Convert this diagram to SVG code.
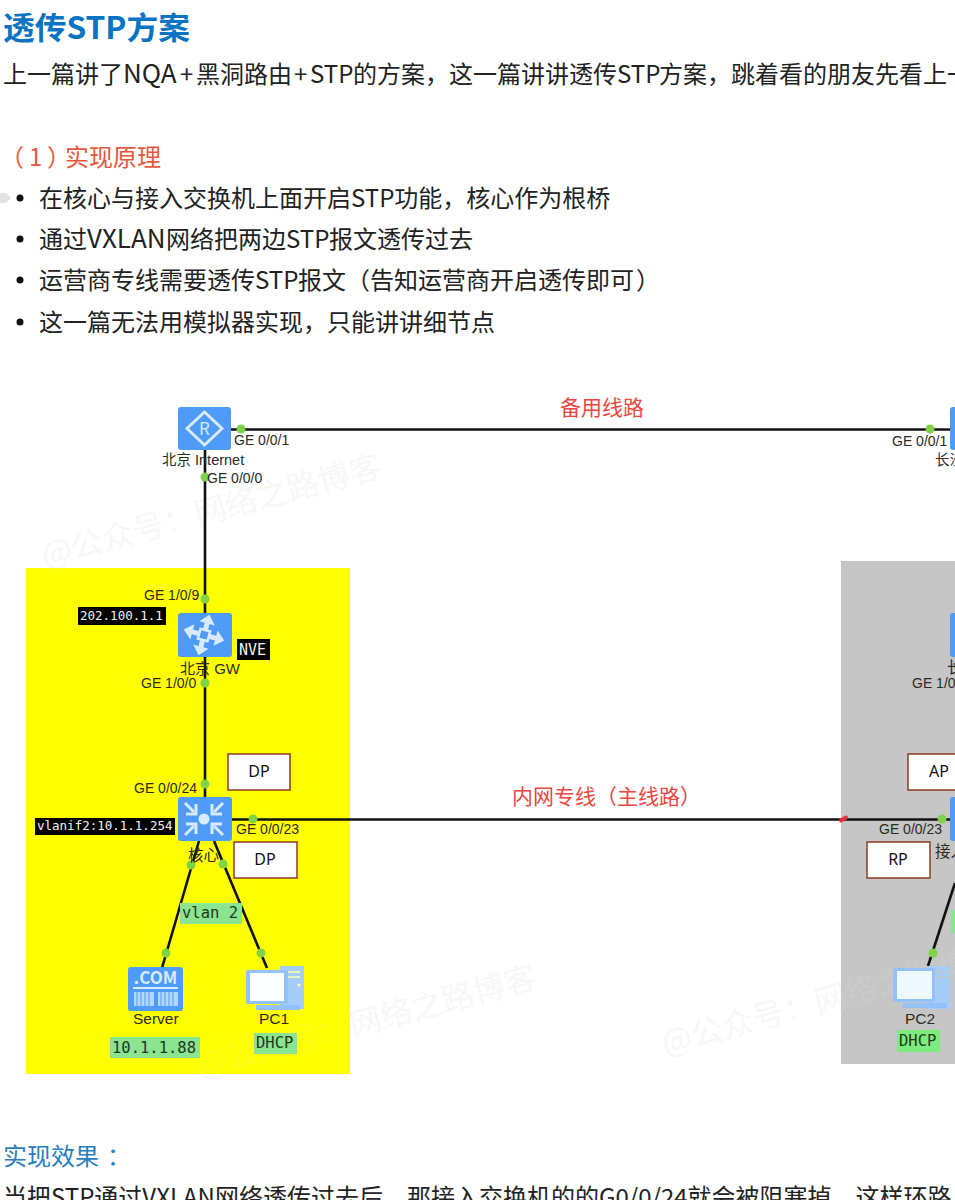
<svg xmlns="http://www.w3.org/2000/svg" width="955" height="1200" viewBox="0 0 955 1200">
<style>
text{font-family:"Noto Sans CJK SC","Liberation Sans",sans-serif}
.body{font-size:24px;fill:#222}
.big{font-size:26px}
.blue{font-size:24px;fill:#2a7ebd}
.zone{stroke:none}
.y{fill:#ffff00}
.g{fill:#c6c6c6}
.veil{opacity:.75}
.wm{font-size:32px;fill:#eeeeee;opacity:.45}
.link{stroke:#111;stroke-width:2.6;fill:none}
.dot{fill:#7ed348}
.port{font-family:"Liberation Sans",Arial,sans-serif;font-size:14px;fill:#2b2b22}
.name{font-family:"Liberation Sans","Noto Sans CJK SC",sans-serif;font-size:15.500px;fill:#2b2b22}
.red{font-size:21px;fill:#e9473f}
.ic{fill:#4e9bf8}
.lt{fill:#d8eaff}
.ls{stroke:#d8eaff;fill:none;stroke-width:3}
.blk{fill:#000}
.mw{font-family:"DejaVu Sans Mono","Liberation Mono",monospace;font-size:12.500px;fill:#f2f2f2}
.grn{fill:#8be48f}
.mg{font-family:"DejaVu Sans Mono","Liberation Mono",monospace;font-size:15.500px;fill:#1f3a20}
.tag{fill:#fff;stroke:#8a3d22;stroke-width:1.500}
.tt{font-family:"Noto Sans","Liberation Sans",sans-serif;font-size:16px;fill:#111;text-anchor:middle}
.tower{fill:#a6cdf8}
.scr{fill:#93c2fb}
</style>
<defs>
<g id="inward"><path d="M-19-16L-10-7" stroke="#d8eaff" stroke-width="3" fill="none"/><path d="M-8-15V-5H-18" stroke="#d8eaff" stroke-width="3" fill="none"/></g>
<path id="arrow" d="M0-21l8 9h-5.500v9h-5v-9h-5.500z" fill="#d8eaff"/>
</defs>
<rect width="955" height="1200" fill="#fff"/>

<g id="article-top">
<text x="3" y="39" font-size="31" font-weight="700" fill="#0b74c2" textLength="187" lengthAdjust="spacingAndGlyphs">透传STP方案</text>
<text class="body" y="83"><tspan x="3">上一篇讲了</tspan><tspan class="big" x="123">NQA</tspan><tspan x="180">+</tspan><tspan x="196">黑洞路由</tspan><tspan x="294">+</tspan><tspan x="310">STP</tspan><tspan x="353">的方案，这一篇讲讲透传</tspan><tspan x="617">STP</tspan><tspan x="659">方案，跳着看的朋友先看上一</tspan></text>
<text x="0 29 47 65 89 113 137" y="166" font-size="24" fill="#e5583e">（1）实现原理</text>
<path d="M0 193h6l5 5-5 5H0z" fill="#e2e2e2"/>
<circle cx="20" cy="198" r="3.500" fill="#111"/><text class="body" x="39" y="207">在核心与接入交换机上面开启STP功能，核心作为根桥</text>
<circle cx="20" cy="239" r="3.500" fill="#111"/><text class="body" y="248"><tspan x="39">通过</tspan><tspan class="big" x="87">VXLAN</tspan><tspan x="166">网络把两边</tspan><tspan x="286">STP</tspan><tspan x="329">报文透传过去</tspan></text>
<circle cx="20" cy="280" r="3.500" fill="#111"/><text class="body" y="289"><tspan x="39">运营商专线需要透传</tspan><tspan x="255">STP</tspan><tspan x="298">报文（告知运营商开启透传即可</tspan><tspan x="636">）</tspan></text>
<circle cx="20" cy="322" r="3.500" fill="#111"/><text class="body" x="39" y="331">这一篇无法用模拟器实现，只能讲讲细节点</text>
</g>

<g id="zones">
<rect class="zone y" x="26" y="568" width="324" height="506"/>
<rect class="zone g" x="841" y="561" width="114" height="503"/>
</g>

<g id="watermarks">
<text class="wm" transform="translate(45 567) rotate(-15)">@公众号：网络之路博客</text>
<text class="wm" transform="translate(200 1078) rotate(-15)">@公众号：网络之路博客</text>
<text class="wm" transform="translate(665 1055) rotate(-15)">@公众号：网络之路博客</text>
<rect class="zone y veil" x="26" y="568" width="324" height="506"/>
<rect class="zone g veil" x="841" y="561" width="114" height="503"/>
</g>

<g id="connectors">
<path class="link" d="M231 429.500H950"/>
<path class="link" d="M205 450V797"/>
<path class="link" d="M232 819.500H950"/>
<path class="link" d="M199 841L162 968"/>
<path class="link" d="M214 841L267 968"/>
<path class="link" d="M928 966L955 883"/>
<circle class="dot" cx="241" cy="429" r="4.500"/>
<circle class="dot" cx="930" cy="429" r="4.500"/>
<circle class="dot" cx="205" cy="477" r="4.500"/>
<circle class="dot" cx="205" cy="599" r="4.500"/>
<circle class="dot" cx="205" cy="683" r="4.500"/>
<circle class="dot" cx="205" cy="784" r="4.500"/>
<circle class="dot" cx="253" cy="819" r="4.500"/>
<circle class="dot" cx="942" cy="819" r="4.500"/>
<circle class="dot" cx="191" cy="865" r="4.500"/>
<circle class="dot" cx="223" cy="864" r="4.500"/>
<circle class="dot" cx="166" cy="953" r="4.500"/>
<circle class="dot" cx="261" cy="953" r="4.500"/>
<circle class="dot" cx="933" cy="953" r="4.500"/>
<path d="M841 820.500l5-3" stroke="#e8303a" stroke-width="4" stroke-linecap="round"/>
<text class="red" x="560" y="415">备用线路</text>
<text class="red" x="512" y="804">内网专线（主线路）</text>
<text class="port" x="234" y="445">GE 0/0/1</text>
<text class="port" x="892" y="446">GE 0/0/1</text>
<text class="port" x="207" y="483">GE 0/0/0</text>
<text class="port" x="144" y="600">GE 1/0/9</text>
<text class="port" x="141" y="688">GE 1/0/0</text>
<text class="port" x="912" y="688">GE 1/0/0</text>
<text class="port" x="134" y="793">GE 0/0/24</text>
<text class="port" x="236" y="834">GE 0/0/23</text>
<text class="port" x="879" y="834">GE 0/0/23</text>
</g>

<g id="bj-internet">
<rect class="ic" x="178" y="407" width="53" height="43" rx="3"/>
<path class="ls" d="M204.500 412L222 428.500L204.500 445L187 428.500Z"/>
<text x="204.500" y="434.500" font-family="Liberation Sans" font-size="17" fill="#d8eaff" text-anchor="middle">R</text>
<text class="name" x="162" y="465" style="font-size:14.500px">北京 Internet</text>
</g>

<g id="cs-internet">
<rect class="ic" x="950" y="407" width="53" height="43" rx="3"/>
<text class="name" x="935" y="465" style="font-size:14.500px">长沙 Internet</text>
</g>

<g id="bj-gw">
<rect class="ic" x="178" y="613" width="54" height="44" rx="3"/>
<g transform="translate(204 635) rotate(15)">
<use href="#arrow"/>
<use href="#arrow" transform="rotate(90)"/>
<use href="#arrow" transform="rotate(180)"/>
<use href="#arrow" transform="rotate(270)"/>
<rect x="-5" y="-5" width="10" height="10" fill="#4e9bf8" stroke="#d8eaff" stroke-width="2.500"/>
</g>
<text class="name" x="180" y="674" style="font-size:15px">北京 GW</text>
<rect class="blk" x="237" y="639" width="33" height="21"/>
<text class="mw" x="239" y="655" style="font-size:15px">NVE</text>
<rect class="blk" x="78" y="607" width="88" height="18"/>
<text class="mw" x="80" y="620">202.100.1.1</text>
</g>

<g id="cs-gw">
<rect class="ic" x="950" y="613" width="54" height="44" rx="3"/>
<text class="name" x="947" y="673">长沙 GW</text>
</g>

<g id="core">
<rect class="ic" x="178" y="797" width="54" height="44" rx="3"/>
<circle class="lt" cx="204" cy="819" r="5.500"/>
<g transform="translate(204 819)">
<use href="#inward"/>
<use href="#inward" transform="scale(-1 1)"/>
<use href="#inward" transform="scale(1 -1)"/>
<use href="#inward" transform="scale(-1 -1)"/>
</g>
<text class="name" x="188" y="861">核心</text>
<rect class="blk" x="35" y="818" width="140" height="17"/>
<text class="mw" x="37" y="830">vlanif2:10.1.1.254</text>
<rect class="tag" x="228" y="754" width="62" height="36"/>
<text class="tt" x="259" y="777">DP</text>
<rect class="tag" x="234" y="842" width="63" height="36"/>
<text class="tt" x="265" y="865">DP</text>
<rect class="grn" x="180" y="903" width="62" height="21"/>
<text class="mg" x="182" y="918">vlan 2</text>
</g>

<g id="access">
<rect class="ic" x="950" y="797" width="54" height="44" rx="3"/>
<text class="name" x="935" y="857">接入</text>
<rect class="tag" x="908" y="754" width="62" height="36"/>
<text class="tt" x="939" y="777">AP</text>
<rect class="tag" x="867" y="842" width="63" height="36"/>
<text class="tt" x="898" y="865">RP</text>
<rect class="grn" x="951" y="910" width="30" height="23"/>
</g>

<g id="server">
<rect class="ic" x="128" y="967" width="55" height="44" rx="3"/>
<text x="155.500" y="984" font-family="Liberation Sans" font-size="17" font-weight="700" fill="#d8eaff" text-anchor="middle">.COM</text>
<path d="M133 988h45" stroke="#d8eaff" stroke-width="2"/>
<path d="M134 992h20v14h-20zM158 992h20v14h-20z" fill="#b5d6fb"/>
<path d="M137 992v14M141 992v14M145 992v14M149 992v14M161 992v14M165 992v14M169 992v14M173 992v14" stroke="#4e9bf8" stroke-width="1"/>
<text class="name" x="133" y="1024">Server</text>
<rect class="grn" x="110" y="1037" width="90" height="21"/>
<text class="mg" x="112" y="1053">10.1.1.88</text>
</g>

<g id="pc1">
<rect class="tower" x="280" y="966" width="24" height="43"/>
<path d="M288 972h12M288 977h12" stroke="#ffffb0" stroke-width="1.500"/>
<circle cx="299" cy="985" r="1.500" fill="#ffffb0"/>
<rect class="scr" x="246" y="970" width="42" height="34" rx="2"/>
<rect x="250" y="973" width="34" height="28" fill="#fbfdff"/>
<path d="M256 1005h44v5h-44z" fill="#93c2fb"/>
<text class="name" x="259" y="1024">PC1</text>
<rect class="grn" x="254" y="1033" width="43" height="21"/>
<text class="mg" x="256" y="1048">DHCP</text>
</g>

<g id="pc2">
<rect class="tower" x="926" y="966" width="24" height="43"/>
<path d="M936 972h12M936 977h12" stroke="#c6c6c6" stroke-width="1.500"/>
<rect class="scr" x="893" y="968" width="42" height="34" rx="2"/>
<rect x="897" y="971" width="35" height="28" fill="#eef9ff"/>
<path d="M903 1003h44v5h-44z" fill="#93c2fb"/>
<text class="name" x="905" y="1024">PC2</text>
<rect x="897" y="1030" width="43" height="22" fill="#7ced7c"/>
<text class="mg" x="899" y="1046">DHCP</text>
</g>

<g id="article-bottom">
<text class="blue" y="1165"><tspan x="3">实现效果</tspan><tspan x="107">：</tspan></text>
<text class="body" x="3" y="1206">当把STP通过VXLAN网络透传过去后，那接入交换机的的G0/0/24就会被阻塞掉，这样环路</text>
</g>
</svg>
